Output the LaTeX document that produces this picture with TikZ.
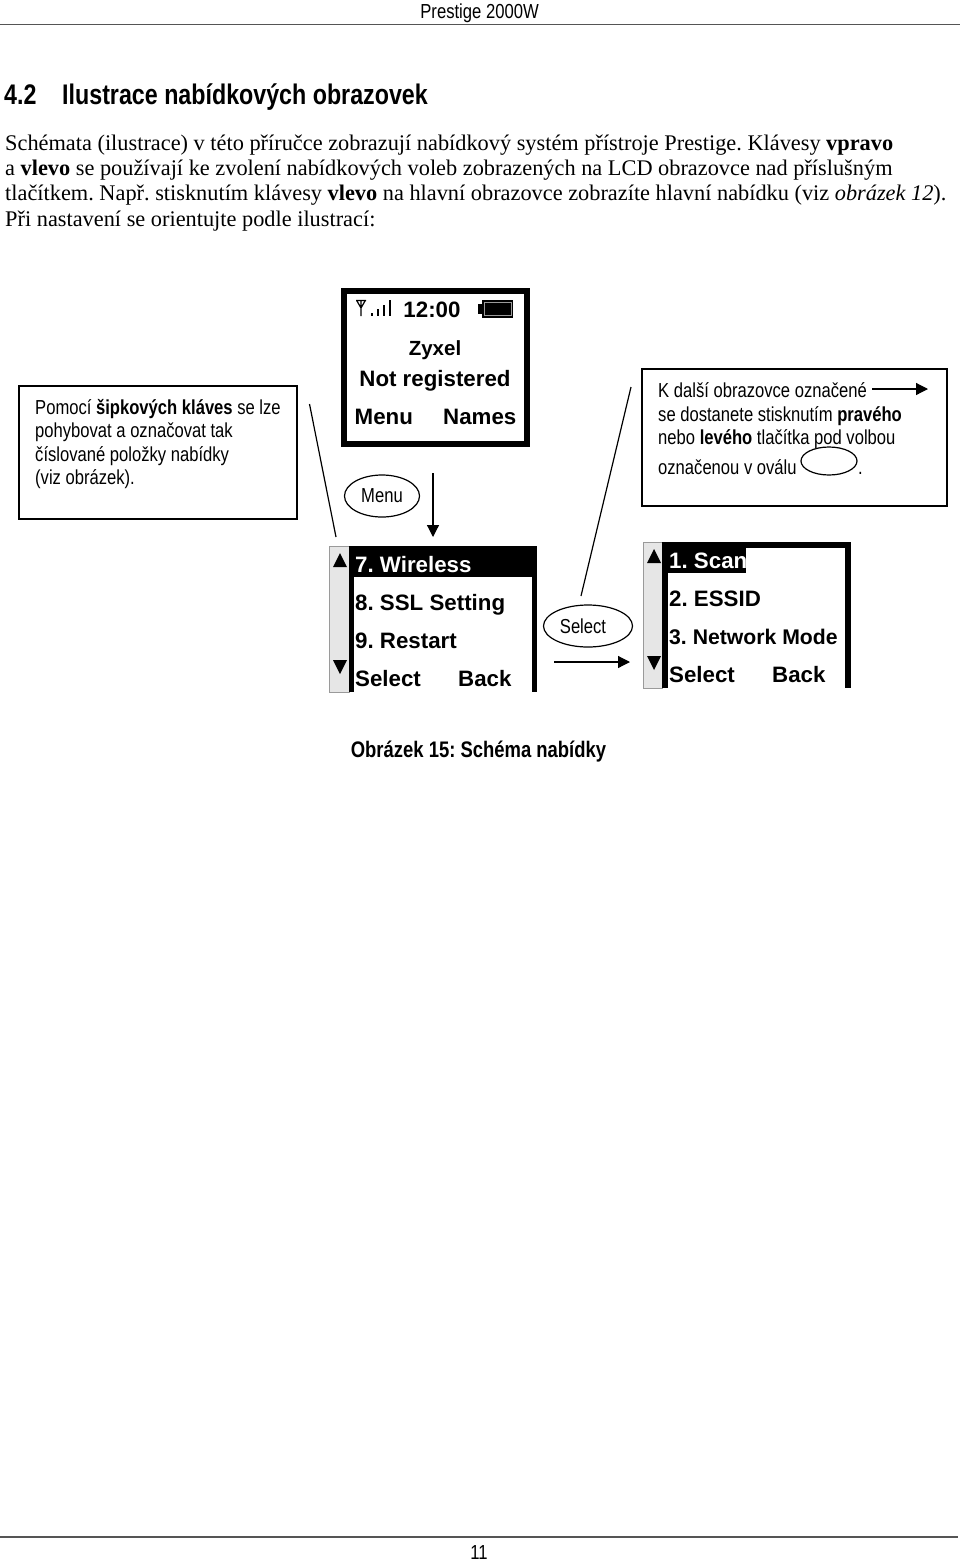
\documentclass[tikz,border=0pt]{standalone}
\usepackage{fontspec}
\setmainfont{Liberation Serif}
\newfontfamily\narrowsf[FakeStretch=0.82]{Liberation Sans}
\newfontfamily\lcdsf{Liberation Sans}
\frenchspacing
\usetikzlibrary{arrows.meta,positioning,calc,shapes.geometric}
\definecolor{pgblack}{HTML}{000000}
\definecolor{pgrule}{HTML}{555555}
\definecolor{pgscroll}{HTML}{E6E6E6}
\definecolor{pgedge}{HTML}{9A9A9A}
\tikzset{
  body/.style  = {anchor=base west, inner sep=0pt, font=\fontsize{22.33}{25}\selectfont},
  note/.style  = {anchor=base west, inner sep=0pt, font=\fontsize{20.25}{24}\narrowsf},
  head/.style  = {anchor=base west, inner sep=0pt, font=\fontsize{28.35}{32}\narrowsf\bfseries},
  lcd/.style   = {anchor=base west, inner sep=0pt, font=\fontsize{22.3}{26}\lcdsf\bfseries},
  lcdc/.style  = {anchor=base, inner sep=0pt, font=\fontsize{22.3}{26}\lcdsf\bfseries},
  notebox/.style = {rectangle, draw=pgblack, line width=1.8pt},
  oval/.style  = {ellipse, draw=pgblack, line width=1.2pt, inner sep=0pt},
  ovaltxt/.style = {font=\fontsize{20.25}{24}\narrowsf},
  ed/.style    = {-{Triangle[length=12pt,width=12pt]}, draw=pgblack, line width=1.2pt},
  pl/.style    = {draw=pgblack, line width=1.2pt},
  frame/.style = {draw=pgblack, line width=5.5pt},
  scroll/.style = {fill=pgscroll, draw=pgedge, line width=0.5pt},
  tri/.style   = {fill=pgblack, draw=none},
}
\begin{document}
\begin{tikzpicture}[x=1pt,y=-1pt]
  \useasboundingbox (0,0) rectangle (960,1561);
  % page furniture
  \node[anchor=base east, inner sep=0pt, font=\fontsize{20.3}{24}\narrowsf] (hdr) at (539,18) {Prestige 2000W};
  \coordinate (ruleA) at (0,24.5);
  \coordinate (ruleB) at (960,24.5);
  \draw[pgrule, line width=1.6pt] (ruleA) -- (ruleB);
  \node[head] (secno) at (4,104) {4.2};
  \node[head] (sectitle) at (62,104) {Ilustrace nabídkových obrazovek};
  \node[body] (l1) at (5,150) {Schémata (ilustrace) v této příručce zobrazují nabídkový systém přístroje Prestige. Klávesy \textbf{vpravo}};
  \node[body] (l2) at (5,175) {a \textbf{vlevo} se používají ke zvolení nabídkových voleb zobrazených na LCD obrazovce nad příslušným};
  \node[body] (l3) at (5,200) {tlačítkem. Např. stisknutím klávesy \textbf{vlevo} na hlavní obrazovce zobrazíte hlavní nabídku (viz \textit{obrázek 12}).};
  \node[body] (l4) at (5,226) {Při nastavení se orientujte podle ilustrací:};

  % main screen
  \draw[frame] (344,291) rectangle (527,444);
  \draw[pgblack, line width=1.2pt] (357,301) -- (361,308) -- (365,301) (356,300.5) -- (366,300.5) (361,300) -- (361,316);
  \foreach \bx/\by in {372/313, 378/309, 384/305, 390/300}{
    \draw[pgblack, line width=1.2pt] (\bx,\by) -- (\bx,316);
  }
  \fill[pgblack] (478,304) rectangle (483,314);
  \fill[pgblack] (482,300) rectangle (513,318);
  \draw[pgedge, line width=0.8pt] (484.5,302.5) rectangle (511,315.5);
  \node[lcdc] (clock) at (432,317) {12:00};
  \node[lcdc, font=\fontsize{20.5}{24}\lcdsf\bfseries] (zyxel) at (435,355.5) {Zyxel};
  \node[lcdc] (notreg) at (435,386.3) {Not registered};
  \node[lcd] (mainl) at (354.5,424.3) {Menu};
  \node[lcd] (mainr) at (443,424.3) {Names};

  % notes left and right
  \draw[notebox] (19,386) rectangle (297,519);
  \node[note] (nl1) at (35,414) {Pomocí \textbf{šipkových kláves} se lze};
  \node[note] (nl2) at (35,437) {pohybovat a označovat tak};
  \node[note] (nl3) at (35,461) {číslované položky nabídky};
  \node[note] (nl4) at (35,484) {(viz obrázek).};
  \draw[notebox] (642,369) rectangle (947,506);
  \node[note] (nr1) at (658,397) {K další obrazovce označené};
  \node[note] (nr2) at (658,421) {se dostanete stisknutím \textbf{pravého}};
  \node[note] (nr3) at (658,444) {nebo \textbf{levého} tlačítka pod volbou};
  \node[note] (nr4) at (658,474) {označenou v oválu};
  \node[note] (nr5) at (858,474) {.};
  \node[oval, minimum width=56pt, minimum height=28pt] (ovalkey) at (829,461) {};
  \coordinate (keyA) at (872,389);
  \coordinate (keyB) at (928,389);
  \draw[ed] (keyA) -- (keyB);

  % soft keys and connectors
  \node[oval, ovaltxt, minimum width=75pt, minimum height=42pt] (menukey) at (382,496) {Menu};
  \node[oval, ovaltxt, minimum width=89pt, minimum height=42pt] (selkey) at (588,626) {\hspace{-10pt}Select};
  \coordinate (downA) at (433,473);
  \coordinate (downB) at (433,537);
  \draw[ed] (downA) -- (downB);
  \coordinate (rightA) at (554,662);
  \coordinate (rightB) at (630,662);
  \draw[ed] (rightA) -- (rightB);
  \coordinate (leadA) at (309.5,404);
  \coordinate (leadB) at (336,537);
  \draw[pl] (leadA) -- (leadB);
  \coordinate (leadC) at (631,387);
  \coordinate (leadD) at (581,596);
  \draw[pl] (leadC) -- (leadD);

  % menu screen 7-9
  \filldraw[scroll] (329,546) rectangle (349,692);
  \fill[pgblack] (349,546) rectangle (354,692);
  \fill[pgblack] (532,546) rectangle (537,692);
  \fill[pgblack] (349,546) rectangle (537,551);
  \fill[pgblack] (349,546) rectangle (532,577);
  \fill[tri] (340,553) -- (347,567) -- (333,567) -- cycle;
  \fill[tri] (340,674) -- (347,660) -- (333,660) -- cycle;
  \node[lcd, text=white] (wifi) at (355,572.3) {7. Wireless};
  \node[lcd] (ssl) at (355,610.3) {8. SSL Setting};
  \node[lcd] (restart) at (355,648.3) {9. Restart};
  \node[lcd] (selA) at (355,686.3) {Select};
  \node[lcd] (backA) at (458,686.3) {Back};

  % menu screen 1-3
  \filldraw[scroll] (643,542) rectangle (662,688);
  \fill[pgblack] (662,542) rectangle (668,688);
  \fill[pgblack] (845,542) rectangle (851,688);
  \fill[pgblack] (662,542) rectangle (851,548);
  \fill[pgblack] (662,548) rectangle (746,573);
  \fill[tri] (654,549) -- (661,563) -- (647,563) -- cycle;
  \fill[tri] (654,670) -- (661,656) -- (647,656) -- cycle;
  \node[lcd, text=white] (scan) at (669,568.3) {1. Scan};
  \node[lcd] (essid) at (669,606.3) {2. ESSID};
  \node[lcd, font=\fontsize{21.2}{25}\lcdsf\bfseries] (netmode) at (669,644.3) {3. Network Mode};
  \node[lcd] (selB) at (669,682.3) {Select};
  \node[lcd] (backB) at (772,682.3) {Back};

  % caption and footer
  \node[anchor=base, inner sep=0pt, font=\fontsize{22.5}{26}\narrowsf\bfseries] (caption) at (478.5,757) {Obrázek 15: Schéma nabídky};
  \coordinate (footA) at (0,1537);
  \coordinate (footB) at (958,1537);
  \draw[pgrule, line width=1.4pt] (footA) -- (footB);
  \node[anchor=base, inner sep=0pt, font=\fontsize{20.3}{24}\narrowsf] (pageno) at (479,1559) {11};
\end{tikzpicture}
\end{document}
